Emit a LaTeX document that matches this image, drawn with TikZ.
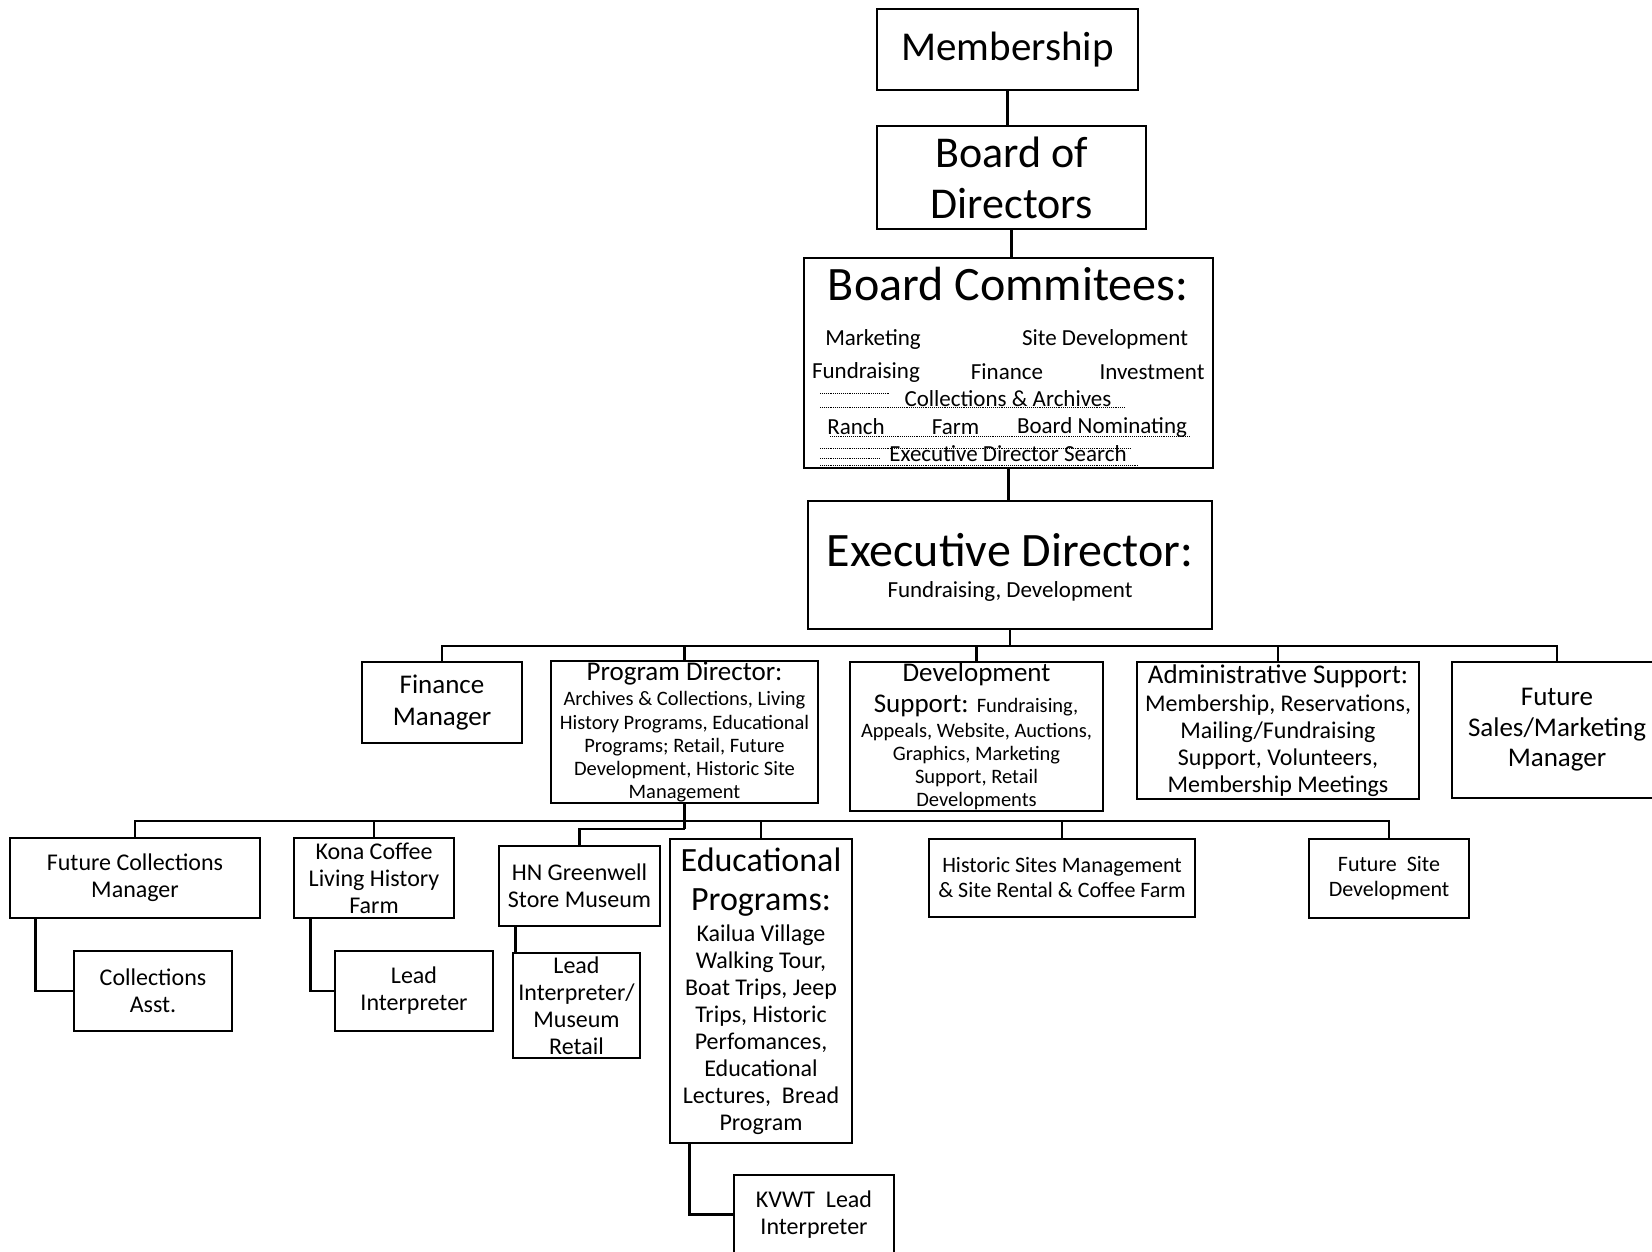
\documentclass[tikz,border=0pt]{standalone}
\usepackage{fontspec}
\setmainfont{Carlito}
\newcommand{\fsz}[2]{\fontsize{#1}{#2}\selectfont}
\tikzset{
  box/.style={draw, line width=1.5pt, inner sep=0pt, align=center},
  txt/.style={inner sep=0pt, align=center},
  link/.style={line width=2.6pt},
  leader/.style={densely dotted, line width=0.9pt},
}

\begin{document}
\begin{tikzpicture}[x=1pt,y=-1pt]
\useasboundingbox (0,0) rectangle (1652,1252);
% board chain
\node[box, minimum width=261pt, minimum height=81pt, font=\fsz{41}{48}] (mem) at (1007.5,49.5) {Membership};
\node[box, minimum width=269pt, minimum height=103pt, font=\fsz{44}{51}] (board) at (1011.5,177.5) {Board of\\Directors};
\node[box, minimum width=409pt, minimum height=210pt] (comm) at (1008.5,363) {};
\node[txt, font=\fsz{48}{54}] (commtitle) at (1008,284.5) {Board Commitees:};
\node[txt, font=\fsz{23}{27}] (cmark) at (873,339) {Marketing};
\node[txt, font=\fsz{23}{27}] (csite) at (1105,339) {Site Development};
\node[txt, font=\fsz{23}{27}] (cfund) at (866,372) {Fundraising};
\node[txt, font=\fsz{23}{27}] (cfin) at (1007,372) {Finance};
\node[txt, font=\fsz{23}{27}] (cinv) at (1152,372) {Investment};
\node[txt, font=\fsz{23}{27}] (ccoll) at (1008,399) {Collections \& Archives};
\node[txt, font=\fsz{23}{27}] (cranch) at (856,427) {Ranch};
\node[txt, font=\fsz{23}{27}] (cfarm) at (955.5,427) {Farm};
\node[txt, font=\fsz{23}{27}] (cnom) at (1102,427) {Board Nominating};
\node[txt, font=\fsz{23}{27}] (csearch) at (1008,454) {Executive Director Search};
% leaders
\draw[leader] (820,393) -- (890,393);
\draw[leader] (820,407) -- (1125,407);
\draw[leader] (830,436) -- (1190,436);
\draw[leader] (820,448) -- (1130,448);
\draw[leader] (820,458) -- (880,458);
\draw[leader] (820,465) -- (1138,465);
\node[box, minimum width=404pt, minimum height=128pt] (ed) at (1010,565) {};
\node[txt, font=\fsz{48}{54}] (edtitle) at (1010,550) {Executive Director:};
\node[txt, font=\fsz{23}{27}] (edsub) at (1010,591) {Fundraising, Development};

% second row
\node[box, minimum width=160pt, minimum height=81pt, font=\fsz{27}{32}] (fin) at (442,702.5) {Finance\\Manager};
\node[box, minimum width=267pt, minimum height=142pt] (pd) at (684.5,732) {};
\node[txt, font=\fsz{27}{32}] (pdtitle) at (684.5,674) {Program Director:};
\node[txt, font=\fsz{20.5}{23.3}] (pdbody) at (684.5,747) {Archives \& Collections, Living\\History Programs, Educational\\Programs; Retail, Future\\Development, Historic Site\\Management};
\node[box, minimum width=253pt, minimum height=149pt] (dev) at (976.5,736.5) {};
\node[txt, font=\fsz{27}{32}] (devtitle) at (976.5,674) {Development};
\node[txt, font=\fsz{27}{32}] (devsub) at (976,706) {Support: {\fsz{20.5}{23.3}Fundraising,}};
\node[txt, font=\fsz{20.5}{23.3}] (devbody) at (976.5,766.5) {Appeals, Website, Auctions,\\Graphics, Marketing\\Support, Retail\\Developments};
\node[box, minimum width=282pt, minimum height=137pt] (adm) at (1278,730.5) {};
\node[txt, font=\fsz{27}{32}] (admtitle) at (1278,676) {Administrative Support:};
\node[txt, font=\fsz{24}{27}] (admbody) at (1278,746) {Membership, Reservations,\\Mailing/Fundraising\\Support, Volunteers,\\Membership Meetings};
\node[box, minimum width=210pt, minimum height=136pt, font=\fsz{27}{30.5}] (fsm) at (1557,730) {Future\\Sales/Marketing\\Manager};

% third row
\node[box, minimum width=250pt, minimum height=80pt, font=\fsz{24}{27}] (fcm) at (135,878) {Future Collections\\Manager};
\node[box, minimum width=160pt, minimum height=80pt, font=\fsz{24}{27}] (kona) at (374,878) {Kona Coffee\\Living History\\Farm};
\node[box, minimum width=161pt, minimum height=80pt, font=\fsz{24}{27}] (hn) at (579.5,886) {HN Greenwell\\Store Museum};
\node[box, minimum width=182pt, minimum height=304pt] (edu) at (761,991) {};
\node[txt, font=\fsz{34}{39}] (edutitle) at (761,882.5) {Educational\\Programs:};
\node[txt, font=\fsz{24}{27}] (edubody) at (761,1029.5) {Kailua Village\\Walking Tour,\\Boat Trips, Jeep\\Trips, Historic\\Perfomances,\\Educational\\Lectures,\ \ Bread\\Program};
\node[box, minimum width=266pt, minimum height=78pt, font=\fsz{22}{25}] (hist) at (1062,878) {Historic Sites Management\\\& Site Rental \& Coffee Farm};
\node[box, minimum width=160pt, minimum height=79pt, font=\fsz{22}{25}] (fsd) at (1389,878.5) {Future\ \ Site\\Development};

% fourth row
\node[box, minimum width=158pt, minimum height=80pt, font=\fsz{24}{27}] (cas) at (153,991) {Collections\\Asst.};
\node[box, minimum width=158pt, minimum height=80pt, font=\fsz{24}{27}] (lint) at (414,991) {Lead\\Interpreter};
\node[box, minimum width=127pt, minimum height=105pt, font=\fsz{24}{27}] (lmr) at (576.5,1005.5) {Lead\\Interpreter/\\Museum\\Retail};
\node[box, minimum width=160pt, minimum height=79pt, font=\fsz{24}{27}] (kvwt) at (814,1214.5) {KVWT\ \ Lead\\Interpreter};

% connectors
\draw[link] (mem.south) -- (mem.south |- board.north);
\draw[link] (board.south) -- (board.south |- comm.north);
\draw[link] (comm.south) -- (comm.south |- ed.north);
\coordinate (busA) at (1010,646);
\draw[link] (ed.south) -- (busA);
\foreach \c in {fin,pd,dev,adm,fsm} \draw[link] (busA) -| (\c.north);
\coordinate (busB) at (684.5,821);
\coordinate (busC) at (684.5,829);
\draw[link] (pd.south) -- (busC);
\foreach \c in {fcm,kona,edu,hist,fsd} \draw[link] (busB) -| (\c.north);
\draw[link] (busC) -| (hn.north);
\draw[link] ([xshift=26pt]fcm.south west) |- (cas.west);
\draw[link] ([xshift=17pt]kona.south west) |- (lint.west);
\draw[link] ([xshift=17pt]hn.south west) -- ([xshift=17pt]hn.south west |- lmr.north);
\draw[link] ([xshift=20pt]edu.south west) |- (kvwt.west);
\end{tikzpicture}
\end{document}
